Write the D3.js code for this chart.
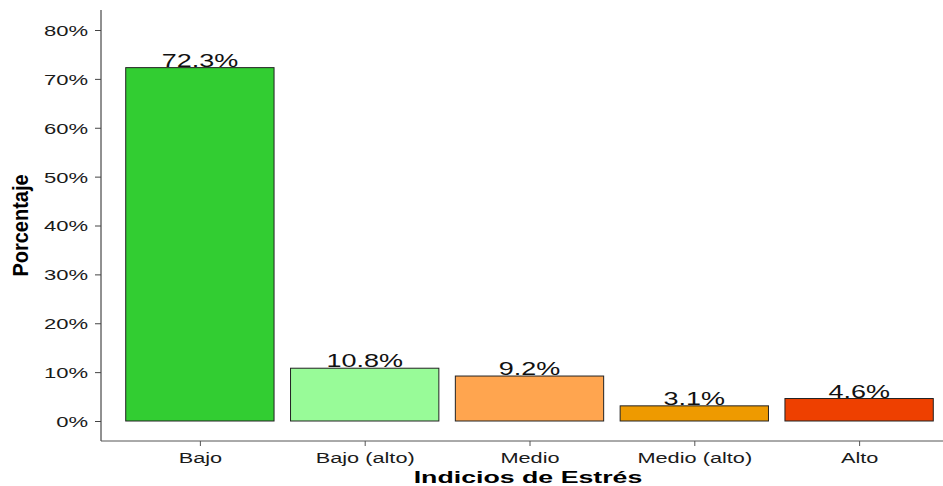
<!DOCTYPE html>
<html>
<head>
<meta charset="utf-8">
<script src="https://cdn.jsdelivr.net/npm/d3@7"></script>
<style>
body { margin: 0; background: #fff; }
svg { display: block; font-family: "Liberation Sans", Arial, sans-serif; }
</style>
</head>
<body>
<svg id="chart" width="943" height="486"></svg>
<script>
// data
var categories = ["Bajo", "Bajo (alto)", "Medio", "Medio (alto)", "Alto"];
var values = [72.3, 10.8, 9.2, 3.1, 4.6];
var colors = ["#32CD32", "#98FB98", "#FFA54F", "#EE9A00", "#EE4000"];
var yTicks = [0, 10, 20, 30, 40, 50, 60, 70, 80];

var chart = d3.select("#chart");
var pLeft = 101, pRight = 958, pTop = 10, pBottom = 441;

// ggplot-like discrete expansion of 0.6 per side
var step = (pRight - pLeft) / (categories.length - 1 + 1.2);
var xScale = d3.scalePoint()
    .domain(categories)
    .range([pLeft + 0.6 * step, pRight - 0.6 * step]);
var barW = step * 0.9;

var yScale = d3.scaleLinear()
    .domain([0, 80])
    .range([421, 30]);

var rows = categories.map(function(c, i) { return {cat: c, val: values[i], col: colors[i]}; });

// labels first, the bar border touches their baseline like in the original
chart.selectAll("text.lab")
    .data(rows).enter()
    .append("text")
        .attr("class", "lab")
        .attr("transform", function(d) {
            return "translate(" + xScale(d.cat) + "," + (yScale(d.val) - 1) + ") scale(1.42,1)";
        })
        .attr("text-anchor", "middle")
        .style("font-size", "19px")
        .attr("fill", "#111")
        .text(function(d) { return d.val.toFixed(1) + "%"; });

chart.selectAll("rect.bar")
    .data(rows).enter()
    .append("rect")
        .attr("class", "bar")
        .attr("x", function(d) { return xScale(d.cat) - barW / 2; })
        .attr("y", function(d) { return yScale(d.val); })
        .attr("width", barW)
        .attr("height", function(d) { return yScale(0) - yScale(d.val); })
        .attr("fill", function(d) { return d.col; })
        .attr("stroke", "#222")
        .attr("stroke-width", 1);

// y axis
var yAxis = chart.append("g")
    .attr("transform", "translate(" + pLeft + ",0)")
    .call(d3.axisLeft(yScale).tickValues(yTicks).tickSize(6).tickPadding(0)
        .tickFormat(function(d) { return d + "%"; }));
yAxis.select(".domain").attr("d", "M0," + pTop + "V" + pBottom).attr("stroke", "#222");
yAxis.selectAll(".tick line").attr("stroke", "#444");
yAxis.selectAll(".tick text")
    .attr("x", 0).attr("dy", "0.36em")
    .attr("transform", "translate(-13,0) scale(1.47,1)")
    .style("font-size", "15px").attr("fill", "#1a1a1a")
    .attr("font-family", "Liberation Sans, Arial, sans-serif");

// x axis
var xAxis = chart.append("g")
    .attr("transform", "translate(0," + pBottom + ")")
    .call(d3.axisBottom(xScale).tickSize(5).tickPadding(0));
xAxis.select(".domain").attr("d", "M" + pLeft + ",0H" + pRight).attr("stroke", "#555");
xAxis.selectAll(".tick line").attr("stroke", "#555");
xAxis.selectAll(".tick text")
    .attr("y", 0).attr("dy", 0)
    .attr("transform", "translate(0,21.5) scale(1.45,1)")
    .style("font-size", "15px").attr("fill", "#1a1a1a")
    .attr("font-family", "Liberation Sans, Arial, sans-serif");

chart.append("text")
    .text("Indicios de Estrés")
    .attr("transform", "translate(528,483) scale(1.62,1)")
    .style("text-anchor", "middle")
    .style("font-size", "16.5px")
    .attr("font-weight", "bold");

chart.append("text")
    .text("Porcentaje")
    .attr("transform", "translate(28," + ((pTop + pBottom) / 2) + ") scale(1.1,1) rotate(-90)")
    .style("text-anchor", "middle")
    .style("font-size", "20px")
    .attr("font-weight", "bold");
</script>
</body>
</html>
